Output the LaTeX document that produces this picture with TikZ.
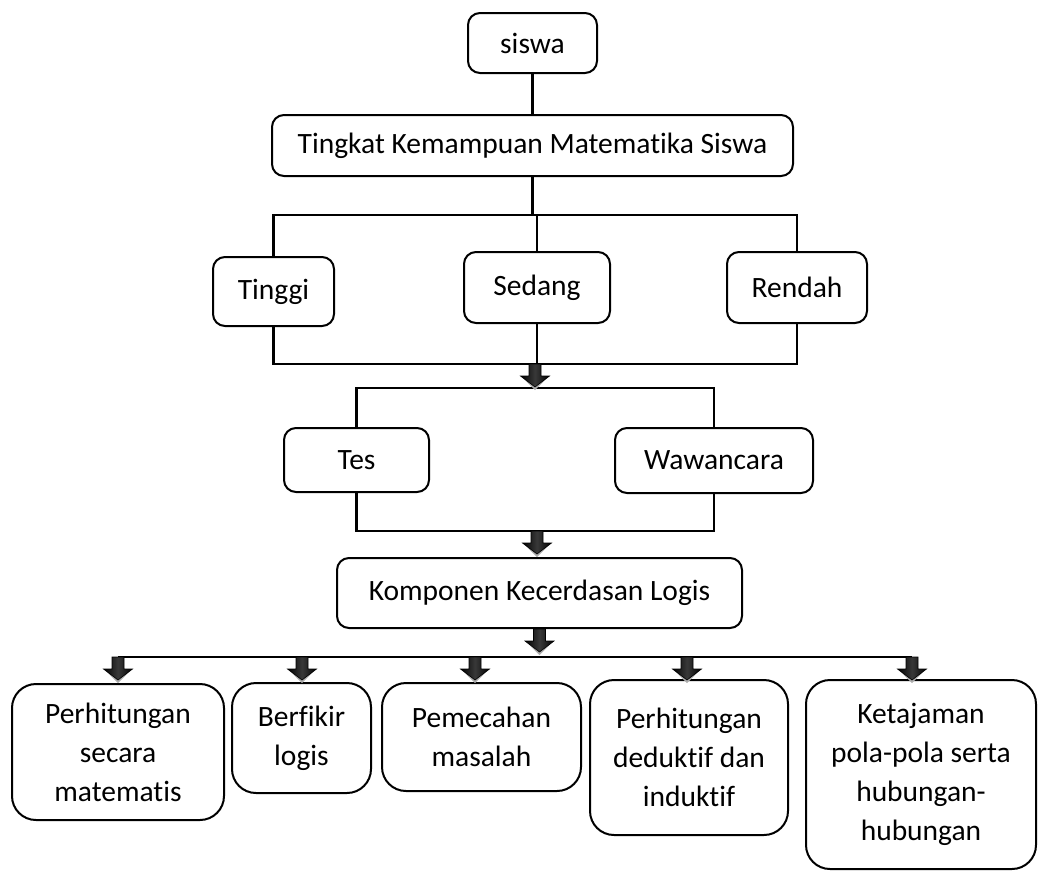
\documentclass[tikz,border=0pt]{standalone}
\usepackage{fontspec}
\setmainfont{Carlito}[Ligatures=NoCommon]
\begin{document}
\begin{tikzpicture}[x=1pt,y=-1pt,
  box/.style={draw, line width=2pt, rounded corners=12pt, align=center, inner sep=0pt,
    font=\fontsize{29.5}{39}\selectfont},
  bigbox/.style={box, rounded corners=24pt},
  link/.style={line width=2.2pt},
  barrow/.pic={
    \fill[gray!65] (-13,13) -- (13,13) -- (0,26) -- cycle;
    \shade[left color=black, right color=black, middle color=gray!45!black, draw=black, line width=0.6pt]
      (-6,0) -- (6,0) -- (6,12) -- (14.5,12) -- (0,23) -- (-14.5,12) -- (-6,12) -- cycle;
  }]
\useasboundingbox (0,0) rectangle (1038,871);
\clip (0,0) rectangle (1038,871);

% top
\node[box, minimum width=129pt, minimum height=60pt] (siswa) at (532.5,43) {siswa};
\node[box, minimum width=521pt, minimum height=61pt] (tingkat) at (532.5,145.5) {Tingkat Kemampuan Matematika Siswa};
\draw[link] (siswa) -- (tingkat);

% level
\node[box, minimum width=121pt, minimum height=69pt] (tinggi) at (273.5,291.5) {Tinggi};
\node[box, minimum width=146pt, minimum height=71pt] (sedang) at (537,287.5) {Sedang};
\node[box, minimum width=140pt, minimum height=71pt] (rendah) at (797,287.5) {Rendah};

\coordinate (b1) at (0,215);
\coordinate (b2) at (0,364);
\draw[link] (tingkat.south) -- (tingkat.south |- b1);
\draw[link] (tinggi.north) -- (tinggi.north |- b1) -- (rendah.north |- b1) -- (rendah.north);
\draw[link] (sedang.north |- b1) -- (sedang.north);
\draw[link] (tinggi.south) -- (tinggi.south |- b2) -- (rendah.south |- b2) -- (rendah.south);
\draw[link] (sedang.south) -- (sedang.south |- b2);

% methods
\node[box, minimum width=145pt, minimum height=64pt] (tes) at (356.5,460) {Tes};
\node[box, minimum width=198pt, minimum height=65pt] (wawancara) at (714,460.5) {Wawancara};
\coordinate (b3) at (0,388);
\coordinate (b4) at (0,531);
\draw[link] (tes.north) -- (tes.north |- b3) -- (wawancara.north |- b3) -- (wawancara.north);
\draw[link] (tes.south) -- (tes.south |- b4) -- (wawancara.south |- b4) -- (wawancara.south);
\coordinate (a1) at (535,364);
\pic at (a1) {barrow};

% komponen
\node[box, minimum width=405pt, minimum height=70pt] (komponen) at (539.5,593) {Komponen Kecerdasan Logis};
\coordinate (a2) at (537,531);
\pic at (a2) {barrow};
\pic at (komponen.south) {barrow};

% bottom boxes
\node[bigbox, minimum width=212pt, minimum height=136pt] (k1) at (118,752) {Perhitungan\\secara\\matematis};
\node[bigbox, minimum width=139pt, minimum height=110pt] (k2) at (301.5,738) {Berfikir\\logis};
\node[bigbox, minimum width=199pt, minimum height=108pt] (k3) at (481.5,737) {Pemecahan\\masalah};
\node[bigbox, minimum width=198pt, minimum height=155pt] (k4) at (689,757.5) {Perhitungan\\deduktif dan\\induktif};
\node[bigbox, minimum width=230pt, minimum height=189pt] (k5) at (921,774.5) {Ketajaman\\pola-pola serta\\hubungan-\\hubungan};

\coordinate (b5) at (0,657);
\coordinate (c1) at (118,657);
\coordinate (c2) at (302,657);
\coordinate (c3) at (475,657);
\coordinate (c4) at (687,657);
\coordinate (c5) at (912,657);
\draw[link] (c1) -- (c5);
\foreach \c in {c1,c2,c3,c4,c5} { \pic at (\c) {barrow}; }
\end{tikzpicture}
\end{document}
